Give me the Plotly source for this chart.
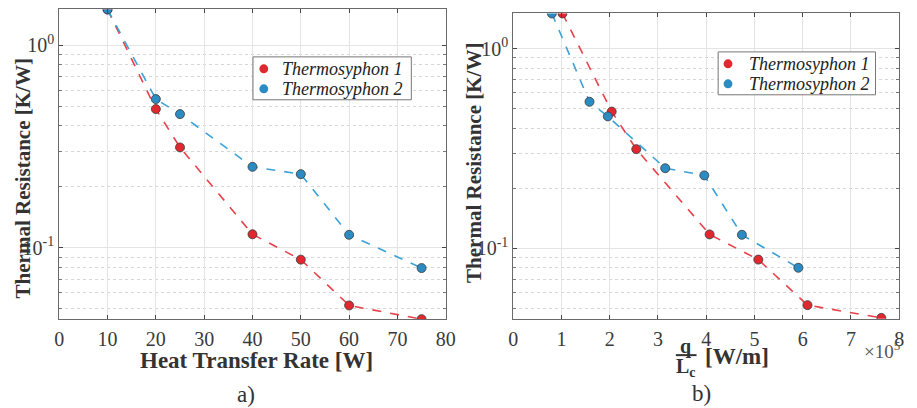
import plotly.graph_objects as go

# ---- data ----
heat_rate = [10, 20, 25, 40, 50, 60, 75]
r_thermo1 = [1.50, 0.484, 0.313, 0.1167, 0.0875, 0.052, 0.0445]
r_thermo2 = [1.50, 0.542, 0.457, 0.251, 0.231, 0.116, 0.0795]

q_per_L1 = [1.02e5, 2.04e5, 2.55e5, 4.07e5, 5.08e5, 6.10e5, 7.63e5]
q_per_L2 = [0.80e5, 1.58e5, 1.96e5, 3.15e5, 3.96e5, 4.74e5, 5.91e5]
r_thermo1_b = [1.50, 0.484, 0.314, 0.1175, 0.0879, 0.052, 0.0449]
r_thermo2_b = [1.50, 0.542, 0.458, 0.252, 0.232, 0.117, 0.0800]

series_names = ["Thermosyphon 1", "Thermosyphon 2"]
x_ticks_a = [0, 10, 20, 30, 40, 50, 60, 70, 80]
x_ticks_b = [0, 1e5, 2e5, 3e5, 4e5, 5e5, 6e5, 7e5, 8e5]
x_ticktext_b = ["0", "1", "2", "3", "4", "5", "6", "7", "8"]
y_ticks = [0.1, 1]
y_ticktext = ["10<sup>-1</sup>", "10<sup>0</sup>"]
y_minor = [0.05, 0.06, 0.07, 0.08, 0.09, 0.2, 0.3, 0.4, 0.5, 0.6, 0.7, 0.8, 0.9]

SERIF = "Liberation Serif"
RED_M, RED_L = "#e0282e", "#e8414a"
BLUE_M, BLUE_L = "#2b8cc4", "#3aa2d8"
MARKER_COLORS = [RED_M, BLUE_M]

fig = go.Figure()

def add_series(x, y, name, mcol, lcol, xa, ya):
    fig.add_trace(go.Scatter(
        x=x, y=y, name=name, mode="lines+markers", showlegend=False,
        line=dict(color=lcol, width=1.6, dash="dash"),
        marker=dict(color=mcol, size=9, line=dict(color="#3a3a3a", width=0.8)),
        xaxis=xa, yaxis=ya))

add_series(heat_rate, r_thermo1, series_names[0], RED_M, RED_L, "x", "y")
add_series(heat_rate, r_thermo2, series_names[1], BLUE_M, BLUE_L, "x", "y")
add_series(q_per_L1, r_thermo1_b, series_names[0], RED_M, RED_L, "x2", "y2")
add_series(q_per_L2, r_thermo2_b, series_names[1], BLUE_M, BLUE_L, "x2", "y2")

# page body has an 8px margin: figure is placed at (8, 8) in the window
OFF = 8
W, H = 917 - OFF, 408 - OFF
def px_x(p): return (p - OFF) / W
def px_y(p): return 1 - (p - OFF) / H

xcommon = dict(showline=True, mirror="ticks", linecolor="#6a6a6a", linewidth=1,
               ticks="inside", ticklen=4, tickcolor="#444",
               showgrid=True, gridcolor="#e4e4e4", gridwidth=1, zeroline=False,
               ticklabelstandoff=2,
               tickfont=dict(family=SERIF, size=20, color="#3a3a3a"))
ycommon = dict(type="log", range=[-1.352, 0.176], showline=True, mirror="ticks",
               linecolor="#6a6a6a", linewidth=1, ticks="inside", ticklen=4,
               tickcolor="#444", showgrid=True, gridcolor="#e4e4e4", gridwidth=1,
               tickvals=y_ticks, ticktext=y_ticktext, ticklabelstandoff=0,
               tickfont=dict(family=SERIF, size=20, color="#3a3a3a"),
               minor=dict(tickvals=y_minor, showgrid=True, gridcolor="#d6d6d6",
                          griddash="dot", ticks="inside", ticklen=3, tickcolor="#777"))

fig.update_layout(
    width=W, height=H, margin=dict(l=0, r=0, t=0, b=0),
    paper_bgcolor="white", plot_bgcolor="white", showlegend=False,
    xaxis=dict(xcommon, domain=[px_x(55), px_x(448)], range=[0, 80],
               tickvals=x_ticks_a, anchor="y"),
    yaxis=dict(ycommon, domain=[px_y(319), px_y(8.5)], anchor="x"),
    xaxis2=dict(xcommon, domain=[px_x(516.7), px_x(909)], range=[0, 8e5],
                tickvals=x_ticks_b, ticktext=x_ticktext_b, anchor="y2"),
    yaxis2=dict(ycommon, domain=[px_y(318.5), px_y(12.5)], anchor="x2"),
)

ann = []
shapes = []
def text(x, y, s, size, bold=False, italic=False, angle=0, xanchor="center",
         yanchor="middle", color="#333"):
    if bold:
        s = "<b>%s</b>" % s
    if italic:
        s = "<i>%s</i>" % s
    ann.append(dict(x=px_x(x), y=px_y(y), xref="paper", yref="paper", text=s,
                    showarrow=False, textangle=angle, xanchor=xanchor, yanchor=yanchor,
                    borderpad=0, font=dict(family=SERIF, size=size, color=color)))

def legend_box(x0, y0, x1, y1, mx, my_list, tx):
    shapes.append(dict(type="rect", xref="paper", yref="paper",
                       x0=px_x(x0), x1=px_x(x1), y0=px_y(y1), y1=px_y(y0),
                       fillcolor="white", line=dict(color="#777", width=1), layer="above"))
    for name, col, my in zip(series_names, MARKER_COLORS, my_list):
        shapes.append(dict(type="circle", xref="paper", yref="paper",
                           x0=px_x(mx - 4.5), x1=px_x(mx + 4.5),
                           y0=px_y(my + 4.5), y1=px_y(my - 4.5),
                           fillcolor=col, line=dict(width=0), layer="above"))
        text(tx, my, name, 18, italic=True, xanchor="left", color="#222")

legend_box(252, 56, 413, 99, 263, [68, 88], 281)
legend_box(725, 51, 885, 94, 735, [63, 83], 755)

text(18, 178, "Thermal Resistance [K/W]", 21, bold=True, angle=-90)
text(476, 162, "Thermal Resistance [K/W]", 21, bold=True, angle=-90)
text(256, 360, "Heat Transfer Rate [W]", 23, bold=True)
text(245, 394, "a)", 23)
text(708, 393, "b)", 23)
text(692, 346, "q", 20, bold=True)
text(692, 367, "L<sub>c</sub>", 20, bold=True)
text(744, 356, "[W/m]", 23, bold=True)
text(912, 350, "×10<sup>5</sup>", 19, xanchor="right", color="#555")
shapes.append(dict(type="line", xref="paper", yref="paper", x0=px_x(682), x1=px_x(703),
                   y0=px_y(355), y1=px_y(355), line=dict(color="#333", width=2)))
fig.update_layout(annotations=ann, shapes=shapes)

fig.write_html("out.html")
